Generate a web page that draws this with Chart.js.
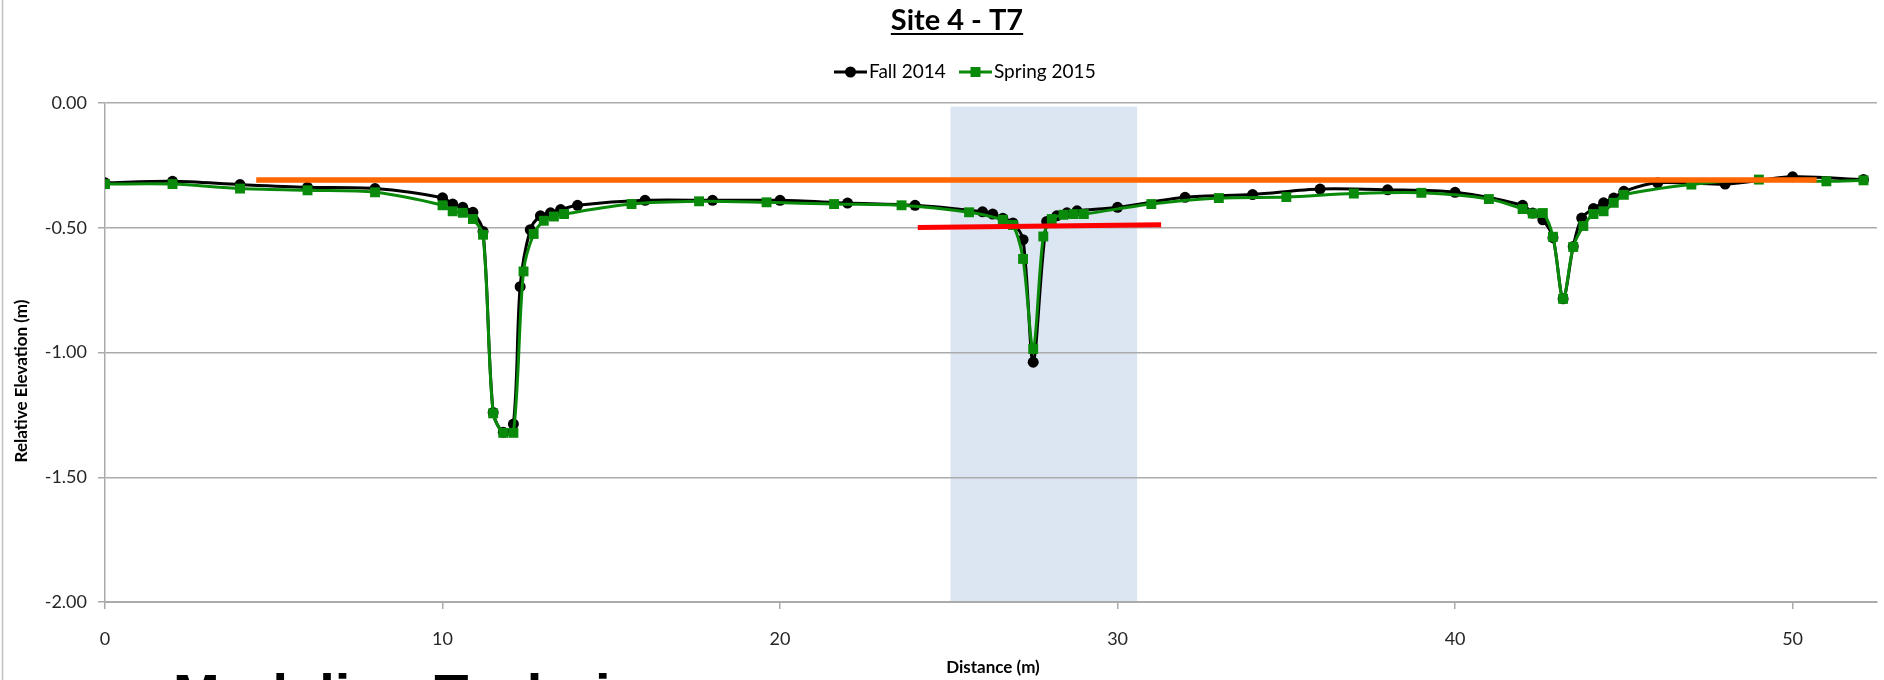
<!DOCTYPE html>
<html>
<head>
<meta charset="utf-8">
<title>Site 4 - T7</title>
<script src="https://cdn.jsdelivr.net/npm/chart.js@4.4.1/dist/chart.umd.min.js"></script>
<style>
    html, body { margin: 0; padding: 0; background: #fff; }
    #wrap { position: relative; width: 1884px; height: 680px; overflow: hidden; }
</style>
</head>
<body>
<div id="wrap"><canvas id="chartT7" width="1884" height="680"></canvas></div>
<script>
// ============== DATA ==============

// Fall 2014 survey (distance m, relative elevation m)
const distFall = [0, 2, 4, 6, 8, 10, 10.3, 10.6, 10.9, 11.2, 11.5, 11.8, 12.1, 12.3, 12.6, 12.9, 13.2, 13.5, 14,
    16, 18, 20, 22, 24, 26, 26.3, 26.6, 26.9, 27.2, 27.5, 27.9, 28.2, 28.5, 28.8, 30,
    32, 34, 36, 38, 40, 42, 42.3, 42.6, 42.9, 43.2, 43.5, 43.75, 44.1, 44.4, 44.7, 45, 46, 48, 50, 52.1];
const elevFall = [-0.320, -0.314, -0.327, -0.338, -0.343, -0.380, -0.405, -0.418, -0.438, -0.515, -1.240, -1.320, -1.287, -0.736, -0.508, -0.452, -0.440, -0.427, -0.410,
    -0.390, -0.390, -0.390, -0.401, -0.410, -0.436, -0.445, -0.462, -0.481, -0.548, -1.039, -0.475, -0.452, -0.440, -0.432, -0.418,
    -0.378, -0.367, -0.345, -0.348, -0.358, -0.410, -0.441, -0.468, -0.540, -0.785, -0.575, -0.461, -0.423, -0.400, -0.381, -0.354, -0.320, -0.325, -0.296, -0.307];

// Spring 2015 survey
const distSpring = [0, 2, 4, 6, 8, 10, 10.3, 10.6, 10.9, 11.2, 11.5, 11.8, 12.1, 12.4, 12.7, 13.0, 13.3, 13.6,
    15.6, 17.6, 19.6, 21.6, 23.6, 25.6, 26.6, 26.9, 27.2, 27.5, 27.8, 28.05, 28.4, 28.7, 29.0,
    31, 33, 35, 37, 39, 41, 42, 42.3, 42.6, 42.9, 43.2, 43.5, 43.8, 44.1, 44.4, 44.7, 45, 47, 49, 51, 52.1];
const elevSpring = [-0.325, -0.325, -0.343, -0.350, -0.358, -0.410, -0.434, -0.440, -0.465, -0.528, -1.244, -1.322, -1.322, -0.675, -0.525, -0.472, -0.455, -0.445,
    -0.405, -0.394, -0.398, -0.405, -0.410, -0.438, -0.468, -0.489, -0.625, -0.986, -0.535, -0.465, -0.448, -0.445, -0.445,
    -0.405, -0.381, -0.377, -0.363, -0.360, -0.385, -0.425, -0.443, -0.441, -0.536, -0.785, -0.577, -0.493, -0.445, -0.434, -0.400, -0.368, -0.327, -0.307, -0.314, -0.310];

// Reference lines drawn over the profile
const bankLineX = [4.48, 50.71];
const bankLineY = [-0.309, -0.309];
const waterLineX = [24.08, 31.29];
const waterLineY = [-0.499, -0.488];

// Shaded zone (distance range, top elevation)
const bandRange = [25.05, 30.58];
const bandTop = -0.015;

// Axis ticks
const xTickValues = [0, 10, 20, 30, 40, 50];
const yTickValues = [0, -0.5, -1, -1.5, -2];

const seriesNames = ['Fall 2014', 'Spring 2015'];

// ============== STYLE ==============

const FONT = "'Liberation Sans Narrow', 'Arial Narrow', Lato, sans-serif";
const BIG_FONT = "'Liberation Sans', Arial, sans-serif";
const GREEN = '#0A8A0A';
const GRID = '#ABABAB';

function toPoints(xs, ys) {
    return xs.map((x, i) => ({ x: x, y: ys[i] }));
}

// ============== EXTRA DRAWING (band, titles, legend) ==============

const siteExtras = {
    id: 'siteExtras',
    beforeDraw(chart) {
        const { ctx, chartArea, scales: { x, y } } = chart;
        const left = x.getPixelForValue(bandRange[0]);
        const right = x.getPixelForValue(bandRange[1]);
        const top = y.getPixelForValue(bandTop);
        ctx.save();
        ctx.fillStyle = '#DCE6F2';
        ctx.fillRect(left, top, right - left, chartArea.bottom - top);
        ctx.restore();
    },
    afterDraw(chart) {
        const ctx = chart.ctx;
        ctx.save();

        // slide edge on the left
        ctx.strokeStyle = '#BFBFBF';
        ctx.lineWidth = 1.5;
        ctx.beginPath();
        ctx.moveTo(2.5, 0);
        ctx.lineTo(2.5, 680);
        ctx.stroke();

        // title, underlined
        ctx.fillStyle = '#000';
        ctx.font = 'bold 29px ' + FONT;
        ctx.textAlign = 'center';
        ctx.textBaseline = 'middle';
        const title = 'Site 4 - T7';
        ctx.fillText(title, 957, 21);
        const tw = ctx.measureText(title).width;
        ctx.fillRect(957 - tw / 2, 33, tw, 2);

        // legend
        ctx.font = '19px ' + FONT;
        ctx.textAlign = 'left';
        ctx.lineWidth = 3;
        ctx.strokeStyle = '#000';
        ctx.beginPath();
        ctx.moveTo(834, 72);
        ctx.lineTo(867, 72);
        ctx.stroke();
        ctx.beginPath();
        ctx.arc(850.5, 72, 5.5, 0, Math.PI * 2);
        ctx.fill();
        ctx.fillText(seriesNames[0], 869, 72);

        ctx.strokeStyle = GREEN;
        ctx.fillStyle = GREEN;
        ctx.beginPath();
        ctx.moveTo(959, 72);
        ctx.lineTo(992, 72);
        ctx.stroke();
        ctx.fillRect(970.5, 67, 10, 10);
        ctx.fillStyle = '#000';
        ctx.fillText(seriesNames[1], 994, 72);

        // axis titles
        ctx.font = 'bold 17px ' + FONT;
        ctx.textAlign = 'center';
        ctx.fillText('Distance (m)', 993, 668);
        ctx.save();
        ctx.translate(22, 381);
        ctx.rotate(-Math.PI / 2);
        ctx.fillText('Relative Elevation (m)', 0, 0);
        ctx.restore();

        // large slide text, cut off by the bottom edge
        ctx.font = 'bold 56px ' + BIG_FONT;
        ctx.textAlign = 'left';
        ctx.textBaseline = 'alphabetic';
        ctx.fillText('Modeling Technique', 173, 713);

        ctx.restore();
    }
};

// ============== CHART ==============

const canvas = document.getElementById('chartT7');

new Chart(canvas.getContext('2d'), {
    type: 'line',
    data: {
        datasets: [
            {
                label: seriesNames[0],
                data: toPoints(distFall, elevFall),
                borderColor: '#000',
                backgroundColor: '#000',
                borderWidth: 3,
                tension: 0.3,
                pointStyle: 'circle',
                pointRadius: 5.5,
                pointBorderWidth: 0,
                order: 2
            },
            {
                label: seriesNames[1],
                data: toPoints(distSpring, elevSpring),
                borderColor: GREEN,
                backgroundColor: GREEN,
                borderWidth: 3,
                tension: 0.3,
                pointStyle: 'rect',
                pointRadius: 7,
                pointBorderWidth: 0,
                order: 1
            },
            {
                label: 'bank',
                data: toPoints(bankLineX, bankLineY),
                borderColor: '#FF6600',
                borderWidth: 5.5,
                pointRadius: 0,
                tension: 0,
                order: 0
            },
            {
                label: 'water',
                data: toPoints(waterLineX, waterLineY),
                borderColor: '#FF0000',
                borderWidth: 5,
                pointRadius: 0,
                tension: 0,
                order: 0
            }
        ]
    },
    options: {
        responsive: false,
        animation: false,
        devicePixelRatio: 1,
        layout: { padding: { top: 103, left: 0, right: 0, bottom: 0 } },
        plugins: {
            legend: { display: false },
            title: { display: false },
            tooltip: { enabled: false }
        },
        scales: {
            x: {
                type: 'linear',
                min: 0,
                max: 52.5,
                afterBuildTicks: s => { s.ticks = xTickValues.map(v => ({ value: v })); },
                afterFit: s => { s.height = 78; },
                grid: { display: true, drawOnChartArea: false, drawTicks: true, tickLength: 7, color: GRID, lineWidth: 1.5 },
                border: { display: true, color: GRID, width: 2 },
                ticks: {
                    font: { family: FONT, size: 18 },
                    color: '#262626',
                    padding: 19,
                    maxRotation: 0,
                    callback: v => String(v)
                }
            },
            y: {
                type: 'linear',
                min: -2,
                max: 0,
                afterBuildTicks: s => { s.ticks = yTickValues.map(v => ({ value: v })); },
                afterFit: s => { s.width = 105; },
                grid: { color: GRID, lineWidth: 1.5, tickLength: 7 },
                border: { display: true, color: GRID, width: 1.5 },
                ticks: {
                    font: { family: FONT, size: 18 },
                    color: '#262626',
                    padding: 11,
                    callback: v => v.toFixed(2)
                }
            }
        }
    },
    plugins: [siteExtras]
});
</script>
</body>
</html>
